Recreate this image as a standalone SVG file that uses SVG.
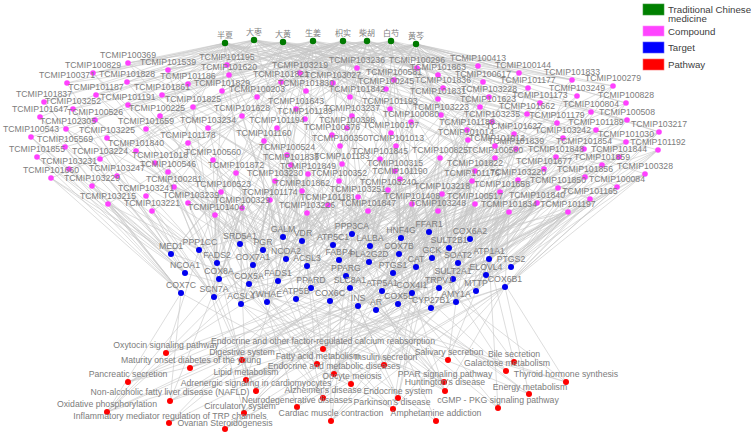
<svg xmlns="http://www.w3.org/2000/svg" width="751" height="436" viewBox="0 0 751 436">
<style>
.e{stroke:#c6c6c6;stroke-width:0.6;fill:none}
.c{fill:#ff40ff}
.t{fill:#0000f0}
.p{fill:#ff0000}
.h{fill:#007a00}
text{font-family:"Liberation Sans",Arial,sans-serif;font-size:8.7px;fill:#7c7c7c;text-anchor:middle}
.hl{font-family:"Noto Sans CJK SC",sans-serif;font-size:8px;fill:#808080}
.lg{font-size:9.7px;fill:#404040;text-anchor:start}
</style>
<rect width="751" height="436" fill="#ffffff"/>
<g id="connectors">
<path class="e" d="M254 40L128 63M283 42L93 73M313 41L168 70M343 41L227 65M367 41L67 83M391 41L127 82M416 44L188 84M225 43L229 75M254 40L44 102M283 42L96 95M313 41L162 95M343 41L222 91M367 41L73 109M391 41L128 105M416 44L193 107M225 43L40 117M254 40L95 120M283 42L160 116M313 41L242 116M343 41L66 129M367 41L146 129M391 41L208 128M416 44L300 73M225 43L357 68M254 40L417 68M283 42L478 66M313 41L281 82M343 41L333 83M367 41L394 80M391 41L438 75M416 44L483 82M225 43L306 91M254 40L386 89M283 42L443 88M313 41L489 97M343 41L257 97M367 41L350 97M391 41L438 99M416 44L296 109M225 43L390 109M254 40L441 115M283 42L480 107M313 41L352 116M343 41L305 119M367 41L277 128M391 41L347 128M416 44L411 122M225 43L492 122M254 40L519 73M283 42L528 88M313 41L572 80M343 41L613 86M367 41L577 96M391 41L540 103M416 44L626 103M225 43L527 114M254 40L591 112M283 42L557 123M313 41L627 120M343 41L596 130M367 41L659 132M391 41L514 134M416 44L563 138M225 43L626 142M254 40L658 150M283 42L516 149M313 41L584 149M343 41L495 158M367 41L556 157M391 41L619 157M416 44L544 169M225 43L602 165M254 40L645 174M283 42L518 180M313 41L585 177M343 41L558 188M367 41L617 187M391 41L500 192M416 44L537 203M225 43L590 199M254 40L509 212M283 42L568 212M313 41L264 141M343 41L332 135M367 41L391 133M391 41L467 130M416 44L340 146M225 43L396 146M254 40L468 140M283 42L495 146M313 41L287 155M343 41L380 159M367 41L440 158M391 41L291 165M416 44L342 164M225 43L395 171M254 40L475 171M283 42L236 173M313 41L308 174M343 41L400 179M367 41L275 181M391 41L339 181M416 44L472 181M225 43L302 191M254 40L388 190M283 42L442 194M313 41L270 200M343 41L358 197M367 41L328 205M391 41L412 204M416 44L475 204M225 43L242 208M254 40L307 213M283 42L368 211M313 41L438 211M343 41L31 137M367 41L107 138M391 41L188 143M416 44L65 147M225 43L37 157M254 40L136 151M283 42L213 160M313 41L100 159M343 41L155 163M367 41L69 169M391 41L51 178M416 44L117 176M225 43L168 172M254 40L92 186M283 42L174 187M313 41L221 192M343 41L146 196M367 41L108 204M391 41L188 203M416 44L152 211M225 43L215 215M225 43L93 73M225 43L67 83M225 43L44 102M225 43L128 63M254 40L73 109M416 44L519 73M416 44L572 80M416 44L613 86M416 44L626 103M391 41L659 132M416 44L478 66M391 41L528 88M225 43L168 70M254 40L188 84"/>
<path class="e" d="M225 43L300 73M225 43L281 82M225 43L257 97M225 43L296 109M225 43L146 129M225 43L162 95M254 40L227 65M254 40L229 75M254 40L222 91M254 40L306 91M254 40L93 73M254 40L127 82M283 42L128 63M283 42L168 70M283 42L357 68M283 42L333 83M283 42L394 80M283 42L264 141M313 41L417 68M313 41L386 89M313 41L350 97M313 41L188 84M313 41L96 95M313 41L332 135M343 41L438 75M343 41L478 66M343 41L300 73M343 41L128 105M343 41L391 133M343 41L193 107M367 41L483 82M367 41L443 88M367 41L257 97M367 41L227 65M367 41L519 73M367 41L352 116M391 41L489 97M391 41L438 99M391 41L296 109M391 41L229 75M391 41L572 80M391 41L390 109M416 44L528 88M416 44L540 103M416 44L357 68M416 44L394 80M416 44L441 115M416 44L480 107"/>
<path class="e" d="M171 254L44 102M171 254L40 117M171 254L31 137M171 254L37 157M171 254L51 178M171 254L66 129M171 254L67 83M171 254L92 186M199 250L73 109M199 250L65 147M199 250L69 169M199 250L108 204M199 250L146 129M199 250L596 130M240 244L93 73M240 244L95 120M240 244L100 159M240 244L208 128M240 244L332 135M240 244L563 138M283 237L128 63M283 237L96 95M283 237L257 97M283 237L287 155M283 237L489 97M283 237L591 112M302 241L128 105M302 241L357 68M302 241L277 128M302 241L308 174M302 241L613 86M302 241L516 149M263 250L107 138M263 250L136 151M263 250L127 82M263 250L264 141M263 250L306 91M263 250L556 157M352 234L168 70M352 234L333 83M352 234L347 128M352 234L394 80M352 234L540 103M352 234L619 157M333 245L162 95M333 245L300 73M333 245L340 146M333 245L441 115M333 245L557 123M333 245L558 188M370 246L188 84M370 246L350 97M370 246L391 133M370 246L467 130M370 246L626 142M370 246L221 192M217 263L117 176M217 263L155 163M217 263L188 143M217 263L193 107M217 263L236 173M217 263L659 132M286 259L227 65M286 259L242 116M286 259L296 109M286 259L342 164M286 259L528 88M286 259L188 203M253 265L160 116M253 265L168 172M253 265L213 160M253 265L275 181M253 265L386 89M253 265L626 103M307 266L222 91M307 266L281 82M307 266L305 119M307 266L339 181M307 266L443 88M307 266L645 174M339 260L229 75M339 260L352 116M339 260L380 159M339 260L388 190M339 260L483 82M339 260L544 169M369 262L417 68M369 262L390 109M369 262L396 146M369 262L395 171M369 262L577 96M369 262L174 187M185 273L31 137M185 273L37 157M185 273L51 178M185 273L92 186M185 273L108 204M185 273L146 196M185 273L73 109M185 273L44 102M219 279L152 211M219 279L174 187M219 279L188 203M219 279L300 73M219 279L584 149M219 279L627 120M346 276L478 66M346 276L411 122M346 276L400 179M346 276L358 197M346 276L514 134M346 276L66 129M346 276L602 165M278 281L302 191M278 281L270 200M278 281L242 208M278 281L291 165M278 281L519 73M278 281L438 75M249 284L215 215M249 284L221 192M249 284L328 205M249 284L438 99M249 284L527 114M249 284L617 187M311 288L307 213M311 288L368 211M311 288L412 204M311 288L468 140M311 288L107 138M311 288L585 177M350 288L442 194M350 288L438 211M350 288L440 158M350 288L146 129M350 288L572 80M350 288L590 199M382 291L475 204M382 291L472 181M382 291L475 171M382 291L495 158M382 291L128 105M382 291L658 150M181 293L31 137M181 293L37 157M181 293L51 178M181 293L69 169M181 293L65 147M181 293L40 117M181 293L92 186M181 293L108 204M214 297L100 159M214 297L117 176M214 297L146 196M214 297L152 211M214 297L492 122M214 297L568 212M241 304L215 215M241 304L242 208M241 304L270 200M241 304L168 70M241 304L500 192M241 304L518 180M267 302L307 213M267 302L328 205M267 302L302 191M267 302L308 174M267 302L480 107M267 302L537 203M296 299L358 197M296 299L368 211M296 299L388 190M296 299L557 123M296 299L509 212M296 299L96 95M330 301L412 204M330 301L438 211M330 301L442 194M330 301L558 188M330 301L568 212M330 301L93 73M358 306L475 204M358 306L509 212M358 306L537 203M358 306L500 192M358 306L95 120M358 306L563 138M376 310L568 212M376 310L590 199M376 310L617 187M376 310L645 174M376 310L188 143M376 310L659 132M401 238L467 130M401 238L495 146M401 238L417 68M401 238L394 80M401 238L127 82M401 238L658 150M399 254L440 158M399 254L475 171M399 254L442 194M399 254L514 134M399 254L162 95M399 254L627 120M393 273L400 179M393 273L412 204M393 273L472 181M393 273L544 169M393 273L213 160M393 273L613 86M398 304L475 204M398 304L509 212M398 304L518 180M398 304L558 188M398 304L155 163M398 304L602 165M429 232L478 66M429 232L483 82M429 232L489 97M429 232L519 73M429 232L128 63M429 232L626 142M470 239L528 88M470 239L540 103M470 239L527 114M470 239L516 149M470 239L591 112M470 239L626 103M470 239L659 132M449 248L467 130M449 248L468 140M449 248L495 146M449 248L495 158M449 248L577 96M449 248L229 75M432 258L440 158M432 258L395 171M432 258L475 171M432 258L563 138M432 258L277 128M432 258L619 157M416 267L400 179M416 267L388 190M416 267L442 194M416 267L556 157M416 267L242 116M416 267L626 142M458 263L472 181M458 263L518 180M458 263L544 169M458 263L500 192M458 263L584 149M458 263L227 65M489 259L514 134M489 259L516 149M489 259L556 157M489 259L585 177M489 259L658 150M489 259L613 86M489 259L645 174M511 267L627 120M511 267L626 142M511 267L658 150M511 267L619 157M511 267L645 174M511 267L659 132M511 267L626 103M486 275L537 203M486 275L558 188M486 275L590 199M486 275L617 187M486 275L602 165M486 275L193 107M453 279L475 204M453 279L438 211M453 279L509 212M453 279L537 203M453 279L596 130M453 279L208 128M505 287L568 212M505 287L590 199M505 287L617 187M505 287L645 174M505 287L659 132M505 287L658 150M505 287L509 212M439 288L438 211M439 288L412 204M439 288L475 204M439 288L568 212M439 288L222 91M439 288L591 112M476 291L509 212M476 291L537 203M476 291L568 212M476 291L558 188M476 291L572 80M476 291L296 109M412 293L368 211M412 293L438 211M412 293L412 204M412 293L442 194M412 293L305 119M412 293L585 177M456 302L475 204M456 302L509 212M456 302L568 212M456 302L590 199M456 302L386 89M456 302L584 149M431 308L438 211M431 308L368 211M431 308L475 204M431 308L537 203M431 308L160 116M431 308L596 130"/>
<path class="e" d="M171 254L264 141M171 254L236 173M171 254L287 155M199 250L242 208M199 250L270 200M199 250L221 192M199 250L332 135M240 244L275 181M240 244L302 191M240 244L340 146M240 244L291 165M283 237L308 174M283 237L342 164M283 237L380 159M283 237L264 141M302 241L339 181M302 241L358 197M302 241L396 146M302 241L287 155M263 250L242 208M263 250L307 213M263 250L328 205M263 250L236 173M352 234L388 190M352 234L395 171M352 234L412 204M352 234L440 158M333 245L368 211M333 245L400 179M333 245L342 164M333 245L302 191M370 246L438 211M370 246L442 194M370 246L475 171M370 246L339 181M217 263L242 208M217 263L215 215M217 263L264 141M217 263L213 160M286 259L307 213M286 259L328 205M286 259L275 181M286 259L391 133M253 265L270 200M253 265L302 191M253 265L221 192M253 265L332 135M307 266L358 197M307 266L368 211M307 266L308 174M307 266L412 204M339 260L396 146M339 260L400 179M339 260L442 194M339 260L291 165M369 262L438 211M369 262L475 204M369 262L472 181M369 262L440 158M219 279L242 208M219 279L275 181M219 279L264 141M219 279L168 172M346 276L388 190M346 276L412 204M346 276L438 211M346 276L308 174M278 281L328 205M278 281L358 197M278 281L236 173M278 281L340 146M249 284L242 208M249 284L270 200M249 284L302 191M249 284L291 165M311 288L339 181M311 288L388 190M311 288L442 194M311 288L287 155M350 288L368 211M350 288L400 179M350 288L475 204M350 288L307 213M382 291L438 211M382 291L412 204M382 291L442 194M382 291L358 197M214 297L215 215M214 297L242 208M214 297L221 192M214 297L174 187M241 304L307 213M241 304L302 191M241 304L275 181M241 304L188 203M267 302L270 200M267 302L242 208M267 302L339 181M267 302L368 211M296 299L307 213M296 299L328 205M296 299L412 204M296 299L270 200M330 301L368 211M330 301L358 197M330 301L388 190M330 301L307 213M358 306L438 211M358 306L412 204M358 306L368 211M358 306L442 194M376 310L438 211M376 310L475 204M376 310L412 204M376 310L509 212M401 238L440 158M401 238L396 146M401 238L391 133M401 238L468 140M399 254L412 204M399 254L400 179M399 254L395 171M399 254L438 211M393 273L438 211M393 273L442 194M393 273L368 211M393 273L475 171M398 304L438 211M398 304L412 204M398 304L442 194M398 304L368 211M429 232L440 158M429 232L467 130M429 232L441 115M429 232L411 122M470 239L495 158M470 239L500 192M470 239L518 180M470 239L475 171M449 248L475 204M449 248L472 181M449 248L442 194M449 248L440 158M432 258L438 211M432 258L442 194M432 258L475 204M432 258L412 204M416 267L438 211M416 267L475 204M416 267L412 204M416 267L472 181M458 263L475 204M458 263L509 212M458 263L537 203M458 263L442 194M489 259L509 212M489 259L537 203M489 259L568 212M489 259L500 192M486 275L509 212M486 275L568 212M486 275L518 180M486 275L475 204M453 279L442 194M453 279L472 181M453 279L500 192M453 279L412 204M439 288L442 194M439 288L472 181M439 288L509 212M439 288L537 203M476 291L475 204M476 291L500 192M476 291L590 199M476 291L518 180M412 293L475 204M412 293L307 213M412 293L328 205M412 293L509 212M456 302L438 211M456 302L537 203M456 302L442 194M456 302L500 192M431 308L412 204M431 308L442 194M431 308L509 212M431 308L307 213"/>
<path class="e" d="M166 353L199 250M166 353L352 234M166 353L350 288M166 353L511 267M323 349L302 241M323 349L489 259M323 349L429 232M242 360L358 306M242 360L489 259M242 360L429 232M242 360L456 302M190 368L401 238M190 368L432 258M190 368L358 306M317 364L217 263M317 364L278 281M317 364L241 304M317 364L307 266M317 364L486 275M384 365L429 232M384 365L432 258M384 365L489 259M384 365L358 306M334 374L358 306M334 374L432 258M334 374L401 238M334 374L346 276M128 382L489 259M128 382L456 302M128 382L350 288M128 382L369 262M246 380L217 263M246 380L278 281M246 380L458 263M246 380L449 248M246 380L453 279M246 380L240 244M246 380L476 291M351 384L267 302M351 384L352 234M351 384L199 250M256 391L489 259M256 391L350 288M256 391L199 250M256 391L214 297M444 382L346 276M444 382L311 288M444 382L339 260M444 382L307 266M444 382L241 304M445 391L505 287M445 391L330 301M445 391L249 284M445 391L399 254M445 391L333 245M445 391L398 304M448 360L489 259M448 360L456 302M448 360L350 288M514 362L489 259M514 362L453 279M506 371L283 237M506 371L432 258M506 371L370 246M566 382L489 259M566 382L416 267M566 382L171 254M566 382L185 273M529 394L382 291M529 394L296 299M529 394L333 245M529 394L505 287M498 408L489 259M498 408L352 234M498 408L350 288M398 398L358 306M398 398L432 258M398 398L429 232M398 398L302 241M323 398L505 287M323 398L249 284M323 398L330 301M323 398L253 265M323 398L219 279M323 398L382 291M323 398L296 299M170 401L358 306M170 401L505 287M170 401L330 301M170 401L181 293M170 401L219 279M297 407L505 287M297 407L398 304M297 407L412 293M297 407L253 265M393 409L505 287M393 409L181 293M393 409L249 284M393 409L296 299M393 409L412 293M107 412L505 287M107 412L181 293M107 412L249 284M107 412L382 291M107 412L219 279M107 412L253 265M107 412L470 239M244 413L489 259M244 413L350 288M244 413L199 250M331 421L505 287M331 421L470 239M331 421L330 301M331 421L489 259M331 421L350 288M169 423L439 288M169 423L352 234M169 423L369 262M225 429L511 267M225 429L393 273M225 429L431 308M225 429L358 306M436 421L352 234M436 421L199 250"/>
</g>
<g id="herbs">
<g id="h1"><circle class="h" cx="225" cy="43" r="3.2"/><text class="hl" x="225" y="38">半夏</text></g>
<g id="h2"><circle class="h" cx="254" cy="40" r="3.2"/><text class="hl" x="254" y="35">大枣</text></g>
<g id="h3"><circle class="h" cx="283" cy="42" r="3.2"/><text class="hl" x="283" y="37">大黄</text></g>
<g id="h4"><circle class="h" cx="313" cy="41" r="3.2"/><text class="hl" x="313" y="36">生姜</text></g>
<g id="h5"><circle class="h" cx="343" cy="41" r="3.2"/><text class="hl" x="343" y="36">枳实</text></g>
<g id="h6"><circle class="h" cx="367" cy="41" r="3.2"/><text class="hl" x="367" y="36">柴胡</text></g>
<g id="h7"><circle class="h" cx="391" cy="41" r="3.2"/><text class="hl" x="391" y="36">白芍</text></g>
<g id="h8"><circle class="h" cx="416" cy="44" r="3.2"/><text class="hl" x="416" y="39">黄芩</text></g>
</g>
<g id="compounds">
<g id="c1"><circle class="c" cx="128" cy="63" r="2.8"/><text x="128" y="58">TCMIP100369</text></g>
<g id="c2"><circle class="c" cx="93" cy="73" r="2.8"/><text x="93" y="68">TCMIP100829</text></g>
<g id="c3"><circle class="c" cx="168" cy="70" r="2.8"/><text x="168" y="65">TCMIP101539</text></g>
<g id="c4"><circle class="c" cx="227" cy="65" r="2.8"/><text x="227" y="60">TCMIP101195</text></g>
<g id="c5"><circle class="c" cx="67" cy="83" r="2.8"/><text x="67" y="78">TCMIP100371</text></g>
<g id="c6"><circle class="c" cx="127" cy="82" r="2.8"/><text x="127" y="77">TCMIP101828</text></g>
<g id="c7"><circle class="c" cx="188" cy="84" r="2.8"/><text x="188" y="79">TCMIP101186</text></g>
<g id="c8"><circle class="c" cx="229" cy="75" r="2.8"/><text x="229" y="70">TCMIP101620</text></g>
<g id="c9"><circle class="c" cx="44" cy="102" r="2.8"/><text x="44" y="97">TCMIP101837</text></g>
<g id="c10"><circle class="c" cx="96" cy="95" r="2.8"/><text x="96" y="90">TCMIP101187</text></g>
<g id="c11"><circle class="c" cx="162" cy="95" r="2.8"/><text x="162" y="90">TCMIP101861</text></g>
<g id="c12"><circle class="c" cx="222" cy="91" r="2.8"/><text x="222" y="86">TCMIP101829</text></g>
<g id="c13"><circle class="c" cx="73" cy="109" r="2.8"/><text x="73" y="104">TCMIP103252</text></g>
<g id="c14"><circle class="c" cx="128" cy="105" r="2.8"/><text x="128" y="100">TCMIP101191</text></g>
<g id="c15"><circle class="c" cx="193" cy="107" r="2.8"/><text x="193" y="102">TCMIP101825</text></g>
<g id="c16"><circle class="c" cx="40" cy="117" r="2.8"/><text x="40" y="112">TCMIP101647</text></g>
<g id="c17"><circle class="c" cx="95" cy="120" r="2.8"/><text x="95" y="115">TCMIP100526</text></g>
<g id="c18"><circle class="c" cx="160" cy="116" r="2.8"/><text x="157" y="111">TCMIP100225</text></g>
<g id="c19"><circle class="c" cx="242" cy="116" r="2.8"/><text x="242" y="111">TCMIP101628</text></g>
<g id="c20"><circle class="c" cx="66" cy="129" r="2.8"/><text x="68" y="124">TCMIP102305</text></g>
<g id="c21"><circle class="c" cx="146" cy="129" r="2.8"/><text x="146" y="124">TCMIP101659</text></g>
<g id="c22"><circle class="c" cx="208" cy="128" r="2.8"/><text x="208" y="123">TCMIP103234</text></g>
<g id="c23"><circle class="c" cx="300" cy="73" r="2.8"/><text x="300" y="68">TCMIP103219</text></g>
<g id="c24"><circle class="c" cx="357" cy="68" r="2.8"/><text x="357" y="63">TCMIP103236</text></g>
<g id="c25"><circle class="c" cx="417" cy="68" r="2.8"/><text x="417" y="63">TCMIP100296</text></g>
<g id="c26"><circle class="c" cx="478" cy="66" r="2.8"/><text x="478" y="61">TCMIP100413</text></g>
<g id="c27"><circle class="c" cx="281" cy="82" r="2.8"/><text x="281" y="77">TCMIP101821</text></g>
<g id="c28"><circle class="c" cx="333" cy="83" r="2.8"/><text x="333" y="78">TCMIP103027</text></g>
<g id="c29"><circle class="c" cx="394" cy="80" r="2.8"/><text x="394" y="75">TCMIP100581</text></g>
<g id="c30"><circle class="c" cx="438" cy="75" r="2.8"/><text x="438" y="70">TCMIP101863</text></g>
<g id="c31"><circle class="c" cx="483" cy="82" r="2.8"/><text x="483" y="77">TCMIP100617</text></g>
<g id="c32"><circle class="c" cx="306" cy="91" r="2.8"/><text x="306" y="86">TCMIP101830</text></g>
<g id="c33"><circle class="c" cx="386" cy="89" r="2.8"/><text x="386" y="84">TCMIP100245</text></g>
<g id="c34"><circle class="c" cx="443" cy="88" r="2.8"/><text x="443" y="83">TCMIP101836</text></g>
<g id="c35"><circle class="c" cx="489" cy="97" r="2.8"/><text x="489" y="92">TCMIP103228</text></g>
<g id="c36"><circle class="c" cx="257" cy="97" r="2.8"/><text x="257" y="92">TCMIP100203</text></g>
<g id="c37"><circle class="c" cx="350" cy="97" r="2.8"/><text x="357" y="92">TCMIP101842</text></g>
<g id="c38"><circle class="c" cx="438" cy="99" r="2.8"/><text x="438" y="94">TCMIP101831</text></g>
<g id="c39"><circle class="c" cx="296" cy="109" r="2.8"/><text x="296" y="104">TCMIP101643</text></g>
<g id="c40"><circle class="c" cx="390" cy="109" r="2.8"/><text x="390" y="104">TCMIP101193</text></g>
<g id="c41"><circle class="c" cx="441" cy="115" r="2.8"/><text x="441" y="110">TCMIP103223</text></g>
<g id="c42"><circle class="c" cx="480" cy="107" r="2.8"/><text x="488" y="102">TCMIP101623</text></g>
<g id="c43"><circle class="c" cx="352" cy="116" r="2.8"/><text x="352" y="111">TCMIP103237</text></g>
<g id="c44"><circle class="c" cx="305" cy="119" r="2.8"/><text x="305" y="114">TCMIP101189</text></g>
<g id="c45"><circle class="c" cx="277" cy="128" r="2.8"/><text x="277" y="123">TCMIP101194</text></g>
<g id="c46"><circle class="c" cx="347" cy="128" r="2.8"/><text x="347" y="123">TCMIP100398</text></g>
<g id="c47"><circle class="c" cx="411" cy="122" r="2.8"/><text x="411" y="117">TCMIP100080</text></g>
<g id="c48"><circle class="c" cx="492" cy="122" r="2.8"/><text x="492" y="117">TCMIP103235</text></g>
<g id="c49"><circle class="c" cx="519" cy="73" r="2.8"/><text x="523" y="68">TCMIP100144</text></g>
<g id="c50"><circle class="c" cx="528" cy="88" r="2.8"/><text x="528" y="83">TCMIP101177</text></g>
<g id="c51"><circle class="c" cx="572" cy="80" r="2.8"/><text x="572" y="75">TCMIP101833</text></g>
<g id="c52"><circle class="c" cx="613" cy="86" r="2.8"/><text x="613" y="81">TCMIP100279</text></g>
<g id="c53"><circle class="c" cx="577" cy="96" r="2.8"/><text x="577" y="91">TCMIP103249</text></g>
<g id="c54"><circle class="c" cx="540" cy="103" r="2.8"/><text x="540" y="98">TCMIP101173</text></g>
<g id="c55"><circle class="c" cx="626" cy="103" r="2.8"/><text x="626" y="98">TCMIP100828</text></g>
<g id="c56"><circle class="c" cx="527" cy="114" r="2.8"/><text x="527" y="109">TCMIP101662</text></g>
<g id="c57"><circle class="c" cx="591" cy="112" r="2.8"/><text x="591" y="107">TCMIP100804</text></g>
<g id="c58"><circle class="c" cx="557" cy="123" r="2.8"/><text x="557" y="118">TCMIP101179</text></g>
<g id="c59"><circle class="c" cx="627" cy="120" r="2.8"/><text x="627" y="115">TCMIP100508</text></g>
<g id="c60"><circle class="c" cx="596" cy="130" r="2.8"/><text x="596" y="125">TCMIP101189</text></g>
<g id="c61"><circle class="c" cx="659" cy="132" r="2.8"/><text x="659" y="127">TCMIP103217</text></g>
<g id="c62"><circle class="c" cx="514" cy="134" r="2.8"/><text x="514" y="129">TCMIP101627</text></g>
<g id="c63"><circle class="c" cx="563" cy="138" r="2.8"/><text x="563" y="133">TCMIP103242</text></g>
<g id="c64"><circle class="c" cx="626" cy="142" r="2.8"/><text x="626" y="137">TCMIP101030</text></g>
<g id="c65"><circle class="c" cx="658" cy="150" r="2.8"/><text x="658" y="145">TCMIP101192</text></g>
<g id="c66"><circle class="c" cx="516" cy="149" r="2.8"/><text x="516" y="144">TCMIP101839</text></g>
<g id="c67"><circle class="c" cx="584" cy="149" r="2.8"/><text x="584" y="144">TCMIP101854</text></g>
<g id="c68"><circle class="c" cx="495" cy="158" r="2.8"/><text x="495" y="153">TCMIP100580</text></g>
<g id="c69"><circle class="c" cx="556" cy="157" r="2.8"/><text x="556" y="152">TCMIP101848</text></g>
<g id="c70"><circle class="c" cx="619" cy="157" r="2.8"/><text x="619" y="152">TCMIP101844</text></g>
<g id="c71"><circle class="c" cx="544" cy="169" r="2.8"/><text x="544" y="164">TCMIP101677</text></g>
<g id="c72"><circle class="c" cx="602" cy="165" r="2.8"/><text x="602" y="160">TCMIP101859</text></g>
<g id="c73"><circle class="c" cx="645" cy="174" r="2.8"/><text x="645" y="169">TCMIP100328</text></g>
<g id="c74"><circle class="c" cx="518" cy="180" r="2.8"/><text x="518" y="175">TCMIP103220</text></g>
<g id="c75"><circle class="c" cx="585" cy="177" r="2.8"/><text x="585" y="172">TCMIP101856</text></g>
<g id="c76"><circle class="c" cx="558" cy="188" r="2.8"/><text x="558" y="183">TCMIP101850</text></g>
<g id="c77"><circle class="c" cx="617" cy="187" r="2.8"/><text x="617" y="182">TCMIP100084</text></g>
<g id="c78"><circle class="c" cx="500" cy="192" r="2.8"/><text x="502" y="187">TCMIP101658</text></g>
<g id="c79"><circle class="c" cx="537" cy="203" r="2.8"/><text x="537" y="198">TCMIP101840</text></g>
<g id="c80"><circle class="c" cx="590" cy="199" r="2.8"/><text x="590" y="194">TCMIP101165</text></g>
<g id="c81"><circle class="c" cx="509" cy="212" r="2.8"/><text x="509" y="207">TCMIP101834</text></g>
<g id="c82"><circle class="c" cx="568" cy="212" r="2.8"/><text x="568" y="207">TCMIP101197</text></g>
<g id="c83"><circle class="c" cx="264" cy="141" r="2.8"/><text x="264" y="136">TCMIP101160</text></g>
<g id="c84"><circle class="c" cx="332" cy="135" r="2.8"/><text x="332" y="130">TCMIP100376</text></g>
<g id="c85"><circle class="c" cx="391" cy="133" r="2.8"/><text x="391" y="128">TCMIP100107</text></g>
<g id="c86"><circle class="c" cx="467" cy="130" r="2.8"/><text x="467" y="125">TCMIP101188</text></g>
<g id="c87"><circle class="c" cx="340" cy="146" r="2.8"/><text x="340" y="141">TCMIP100350</text></g>
<g id="c88"><circle class="c" cx="396" cy="146" r="2.8"/><text x="396" y="141">TCMIP101013</text></g>
<g id="c89"><circle class="c" cx="468" cy="140" r="2.8"/><text x="466" y="135">TCMIP101014</text></g>
<g id="c90"><circle class="c" cx="495" cy="146" r="2.8"/><text x="497" y="141">TCMIP101012</text></g>
<g id="c91"><circle class="c" cx="287" cy="155" r="2.8"/><text x="287" y="150">TCMIP100524</text></g>
<g id="c92"><circle class="c" cx="380" cy="159" r="2.8"/><text x="380" y="154">TCMIP101845</text></g>
<g id="c93"><circle class="c" cx="440" cy="158" r="2.8"/><text x="440" y="153">TCMIP100825</text></g>
<g id="c94"><circle class="c" cx="291" cy="165" r="2.8"/><text x="291" y="160">TCMIP101838</text></g>
<g id="c95"><circle class="c" cx="342" cy="164" r="2.8"/><text x="342" y="159">TCMIP101183</text></g>
<g id="c96"><circle class="c" cx="395" cy="171" r="2.8"/><text x="395" y="166">TCMIP100315</text></g>
<g id="c97"><circle class="c" cx="475" cy="171" r="2.8"/><text x="475" y="166">TCMIP101822</text></g>
<g id="c98"><circle class="c" cx="236" cy="173" r="2.8"/><text x="236" y="168">TCMIP101872</text></g>
<g id="c99"><circle class="c" cx="308" cy="174" r="2.8"/><text x="308" y="169">TCMIP101849</text></g>
<g id="c100"><circle class="c" cx="400" cy="179" r="2.8"/><text x="400" y="174">TCMIP101190</text></g>
<g id="c101"><circle class="c" cx="275" cy="181" r="2.8"/><text x="275" y="176">TCMIP103230</text></g>
<g id="c102"><circle class="c" cx="339" cy="181" r="2.8"/><text x="339" y="176">TCMIP100352</text></g>
<g id="c103"><circle class="c" cx="472" cy="181" r="2.8"/><text x="472" y="176">TCMIP101176</text></g>
<g id="c104"><circle class="c" cx="302" cy="191" r="2.8"/><text x="302" y="186">TCMIP101862</text></g>
<g id="c105"><circle class="c" cx="388" cy="190" r="2.8"/><text x="388" y="185">TCMIP103240</text></g>
<g id="c106"><circle class="c" cx="442" cy="194" r="2.8"/><text x="442" y="189">TCMIP103218</text></g>
<g id="c107"><circle class="c" cx="270" cy="200" r="2.8"/><text x="270" y="195">TCMIP101174</text></g>
<g id="c108"><circle class="c" cx="358" cy="197" r="2.8"/><text x="358" y="192">TCMIP103251</text></g>
<g id="c109"><circle class="c" cx="328" cy="205" r="2.8"/><text x="328" y="200">TCMIP101181</text></g>
<g id="c110"><circle class="c" cx="412" cy="204" r="2.8"/><text x="412" y="199">TCMIP101408</text></g>
<g id="c111"><circle class="c" cx="475" cy="204" r="2.8"/><text x="475" y="199">TCMIP100517</text></g>
<g id="c112"><circle class="c" cx="242" cy="208" r="2.8"/><text x="242" y="203">TCMIP100329</text></g>
<g id="c113"><circle class="c" cx="307" cy="213" r="2.8"/><text x="307" y="208">TCMIP103226</text></g>
<g id="c114"><circle class="c" cx="368" cy="211" r="2.8"/><text x="368" y="206">TCMIP101847</text></g>
<g id="c115"><circle class="c" cx="438" cy="211" r="2.8"/><text x="438" y="206">TCMIP103248</text></g>
<g id="c116"><circle class="c" cx="31" cy="137" r="2.8"/><text x="31" y="132">TCMIP100543</text></g>
<g id="c117"><circle class="c" cx="107" cy="138" r="2.8"/><text x="107" y="133">TCMIP103225</text></g>
<g id="c118"><circle class="c" cx="188" cy="143" r="2.8"/><text x="188" y="138">TCMIP101178</text></g>
<g id="c119"><circle class="c" cx="65" cy="147" r="2.8"/><text x="65" y="142">TCMIP105569</text></g>
<g id="c120"><circle class="c" cx="37" cy="157" r="2.8"/><text x="37" y="152">TCMIP101855</text></g>
<g id="c121"><circle class="c" cx="136" cy="151" r="2.8"/><text x="136" y="146">TCMIP101840</text></g>
<g id="c122"><circle class="c" cx="213" cy="160" r="2.8"/><text x="213" y="155">TCMIP100560</text></g>
<g id="c123"><circle class="c" cx="100" cy="159" r="2.8"/><text x="100" y="154">TCMIP103224</text></g>
<g id="c124"><circle class="c" cx="155" cy="163" r="2.8"/><text x="160" y="158">TCMIP101018</text></g>
<g id="c125"><circle class="c" cx="69" cy="169" r="2.8"/><text x="69" y="164">TCMIP103231</text></g>
<g id="c126"><circle class="c" cx="51" cy="178" r="2.8"/><text x="51" y="173">TCMIP101660</text></g>
<g id="c127"><circle class="c" cx="117" cy="176" r="2.8"/><text x="117" y="171">TCMIP103247</text></g>
<g id="c128"><circle class="c" cx="168" cy="172" r="2.8"/><text x="168" y="167">TCMIP100546</text></g>
<g id="c129"><circle class="c" cx="92" cy="186" r="2.8"/><text x="92" y="181">TCMIP103229</text></g>
<g id="c130"><circle class="c" cx="174" cy="187" r="2.8"/><text x="174" y="182">TCMIP100281</text></g>
<g id="c131"><circle class="c" cx="221" cy="192" r="2.8"/><text x="223" y="187">TCMIP100523</text></g>
<g id="c132"><circle class="c" cx="146" cy="196" r="2.8"/><text x="146" y="191">TCMIP103241</text></g>
<g id="c133"><circle class="c" cx="108" cy="204" r="2.8"/><text x="108" y="199">TCMIP103215</text></g>
<g id="c134"><circle class="c" cx="188" cy="203" r="2.8"/><text x="191" y="198">TCMIP103239</text></g>
<g id="c135"><circle class="c" cx="152" cy="211" r="2.8"/><text x="152" y="206">TCMIP103221</text></g>
<g id="c136"><circle class="c" cx="215" cy="215" r="2.8"/><text x="216" y="210">TCMIP101404</text></g>
</g>
<g id="targets">
<g id="t1"><circle class="t" cx="171" cy="254" r="3"/><text x="171" y="249">MED1</text></g>
<g id="t2"><circle class="t" cx="199" cy="250" r="3"/><text x="200" y="245">PPP1CC</text></g>
<g id="t3"><circle class="t" cx="240" cy="244" r="3"/><text x="240" y="239">SRD5A1</text></g>
<g id="t4"><circle class="t" cx="283" cy="237" r="3"/><text x="283" y="232">GALM</text></g>
<g id="t5"><circle class="t" cx="302" cy="241" r="3"/><text x="303" y="236">VDR</text></g>
<g id="t6"><circle class="t" cx="263" cy="250" r="3"/><text x="263" y="245">PGR</text></g>
<g id="t7"><circle class="t" cx="352" cy="234" r="3"/><text x="352" y="229">PPP3CA</text></g>
<g id="t8"><circle class="t" cx="333" cy="245" r="3"/><text x="333" y="240">ATP5C1</text></g>
<g id="t9"><circle class="t" cx="370" cy="246" r="3"/><text x="370" y="241">LALBA</text></g>
<g id="t10"><circle class="t" cx="217" cy="263" r="3"/><text x="217" y="258">FADS2</text></g>
<g id="t11"><circle class="t" cx="286" cy="259" r="3"/><text x="286" y="254">NCOA2</text></g>
<g id="t12"><circle class="t" cx="253" cy="265" r="3"/><text x="253" y="260">COX7A1</text></g>
<g id="t13"><circle class="t" cx="307" cy="266" r="3"/><text x="307" y="261">ACSL3</text></g>
<g id="t14"><circle class="t" cx="339" cy="260" r="3"/><text x="339" y="255">FABP4</text></g>
<g id="t15"><circle class="t" cx="369" cy="262" r="3"/><text x="369" y="257">PLA2G2D</text></g>
<g id="t16"><circle class="t" cx="185" cy="273" r="3"/><text x="185" y="268">NCOA1</text></g>
<g id="t17"><circle class="t" cx="219" cy="279" r="3"/><text x="219" y="274">COX8A</text></g>
<g id="t18"><circle class="t" cx="346" cy="276" r="3"/><text x="346" y="271">PPARG</text></g>
<g id="t19"><circle class="t" cx="278" cy="281" r="3"/><text x="278" y="276">FADS1</text></g>
<g id="t20"><circle class="t" cx="249" cy="284" r="3"/><text x="249" y="279">COX5A</text></g>
<g id="t21"><circle class="t" cx="311" cy="288" r="3"/><text x="311" y="283">PPARD</text></g>
<g id="t22"><circle class="t" cx="350" cy="288" r="3"/><text x="350" y="283">SLC8A1</text></g>
<g id="t23"><circle class="t" cx="382" cy="291" r="3"/><text x="382" y="286">ATP5A1</text></g>
<g id="t24"><circle class="t" cx="181" cy="293" r="3"/><text x="181" y="288">COX7C</text></g>
<g id="t25"><circle class="t" cx="214" cy="297" r="3"/><text x="214" y="292">SCN7A</text></g>
<g id="t26"><circle class="t" cx="241" cy="304" r="3"/><text x="241" y="299">ACSL4</text></g>
<g id="t27"><circle class="t" cx="267" cy="302" r="3"/><text x="266" y="297">YWHAE</text></g>
<g id="t28"><circle class="t" cx="296" cy="299" r="3"/><text x="296" y="294">ATP5B</text></g>
<g id="t29"><circle class="t" cx="330" cy="301" r="3"/><text x="330" y="296">COX6C</text></g>
<g id="t30"><circle class="t" cx="358" cy="306" r="3"/><text x="358" y="301">INS</text></g>
<g id="t31"><circle class="t" cx="376" cy="310" r="3"/><text x="376" y="305">AR</text></g>
<g id="t32"><circle class="t" cx="401" cy="238" r="3"/><text x="401" y="233">HNF4G</text></g>
<g id="t33"><circle class="t" cx="399" cy="254" r="3"/><text x="399" y="249">COX7B</text></g>
<g id="t34"><circle class="t" cx="393" cy="273" r="3"/><text x="393" y="268">PTGS1</text></g>
<g id="t35"><circle class="t" cx="398" cy="304" r="3"/><text x="399" y="299">COX5B</text></g>
<g id="t36"><circle class="t" cx="429" cy="232" r="3"/><text x="429" y="227">FFAR1</text></g>
<g id="t37"><circle class="t" cx="470" cy="239" r="3"/><text x="470" y="234">COX6A2</text></g>
<g id="t38"><circle class="t" cx="449" cy="248" r="3"/><text x="449" y="243">SULT2B1</text></g>
<g id="t39"><circle class="t" cx="432" cy="258" r="3"/><text x="432" y="253">GCK</text></g>
<g id="t40"><circle class="t" cx="416" cy="267" r="3"/><text x="416" y="262">CAT</text></g>
<g id="t41"><circle class="t" cx="458" cy="263" r="3"/><text x="458" y="258">SOAT2</text></g>
<g id="t42"><circle class="t" cx="489" cy="259" r="3"/><text x="489" y="254">ATP1A1</text></g>
<g id="t43"><circle class="t" cx="511" cy="267" r="3"/><text x="511" y="262">PTGS2</text></g>
<g id="t44"><circle class="t" cx="486" cy="275" r="3"/><text x="486" y="270">ELOVL4</text></g>
<g id="t45"><circle class="t" cx="453" cy="279" r="3"/><text x="453" y="274">SULT2A1</text></g>
<g id="t46"><circle class="t" cx="505" cy="287" r="3"/><text x="505" y="282">COX6B1</text></g>
<g id="t47"><circle class="t" cx="439" cy="288" r="3"/><text x="439" y="283">TRPV1</text></g>
<g id="t48"><circle class="t" cx="476" cy="291" r="3"/><text x="476" y="286">MTTP</text></g>
<g id="t49"><circle class="t" cx="412" cy="293" r="3"/><text x="412" y="288">COX4I1</text></g>
<g id="t50"><circle class="t" cx="456" cy="302" r="3"/><text x="456" y="297">AMY1A</text></g>
<g id="t51"><circle class="t" cx="431" cy="308" r="3"/><text x="431" y="303">CYP27B1</text></g>
</g>
<g id="pathways">
<g id="p1"><circle class="p" cx="166" cy="353" r="3"/><text x="166" y="348">Oxytocin signaling pathway</text></g>
<g id="p2"><circle class="p" cx="323" cy="349" r="3"/><text x="323" y="344">Endocrine and other factor-regulated calcium reabsorption</text></g>
<g id="p3"><circle class="p" cx="242" cy="360" r="3"/><text x="242" y="355">Digestive system</text></g>
<g id="p4"><circle class="p" cx="190" cy="368" r="3"/><text x="191" y="363">Maturity onset diabetes of the young</text></g>
<g id="p5"><circle class="p" cx="317" cy="364" r="3"/><text x="318" y="359">Fatty acid metabolism</text></g>
<g id="p6"><circle class="p" cx="384" cy="365" r="3"/><text x="386" y="360">Insulin secretion</text></g>
<g id="p7"><circle class="p" cx="334" cy="374" r="3"/><text x="334" y="369">Endocrine and metabolic diseases</text></g>
<g id="p8"><circle class="p" cx="128" cy="382" r="3"/><text x="128" y="377">Pancreatic secretion</text></g>
<g id="p9"><circle class="p" cx="246" cy="380" r="3"/><text x="246" y="375">Lipid metabolism</text></g>
<g id="p10"><circle class="p" cx="351" cy="384" r="3"/><text x="352" y="379">Oocyte meiosis</text></g>
<g id="p11"><circle class="p" cx="256" cy="391" r="3"/><text x="256" y="386">Adrenergic signaling in cardiomyocytes</text></g>
<g id="p12"><circle class="p" cx="444" cy="382" r="3"/><text x="445" y="377">PPAR signaling pathway</text></g>
<g id="p13"><circle class="p" cx="445" cy="391" r="3"/><text x="445" y="385">Huntington's disease</text></g>
<g id="p14"><circle class="p" cx="448" cy="360" r="3"/><text x="449" y="355">Salivary secretion</text></g>
<g id="p15"><circle class="p" cx="514" cy="362" r="3"/><text x="514" y="357">Bile secretion</text></g>
<g id="p16"><circle class="p" cx="506" cy="371" r="3"/><text x="507" y="366">Galactose metabolism</text></g>
<g id="p17"><circle class="p" cx="566" cy="382" r="3"/><text x="566" y="377">Thyroid hormone synthesis</text></g>
<g id="p18"><circle class="p" cx="529" cy="394" r="3"/><text x="530" y="390">Energy metabolism</text></g>
<g id="p19"><circle class="p" cx="498" cy="408" r="3"/><text x="498" y="403">cGMP - PKG signaling pathway</text></g>
<g id="p20"><circle class="p" cx="398" cy="398" r="3"/><text x="398" y="394">Endocrine system</text></g>
<g id="p21"><circle class="p" cx="323" cy="398" r="3"/><text x="323" y="393">Alzheimer's disease</text></g>
<g id="p22"><circle class="p" cx="170" cy="401" r="3"/><text x="170" y="395">Non-alcoholic fatty liver disease (NAFLD)</text></g>
<g id="p23"><circle class="p" cx="297" cy="407" r="3"/><text x="297" y="403">Neurodegenerative diseases</text></g>
<g id="p24"><circle class="p" cx="393" cy="409" r="3"/><text x="392" y="405">Parkinson's disease</text></g>
<g id="p25"><circle class="p" cx="107" cy="412" r="3"/><text x="107" y="407">Oxidative phosphorylation</text></g>
<g id="p26"><circle class="p" cx="244" cy="413" r="3"/><text x="240" y="409">Circulatory system</text></g>
<g id="p27"><circle class="p" cx="331" cy="421" r="3"/><text x="331" y="416">Cardiac muscle contraction</text></g>
<g id="p28"><circle class="p" cx="169" cy="423" r="3"/><text x="170" y="419">Inflammatory mediator regulation of TRP channels</text></g>
<g id="p29"><circle class="p" cx="225" cy="429" r="3"/><text x="225" y="426">Ovarian Steroidogenesis</text></g>
<g id="p30"><circle class="p" cx="436" cy="421" r="3"/><text x="436" y="416">Amphetamine addiction</text></g>
</g>
<g id="legend">
<rect x="643" y="4" width="21" height="11" fill="#008000" stroke="#3a9a3a" stroke-width="0.6"/>
<text class="lg" x="668" y="13">Traditional Chinese</text>
<text class="lg" x="668" y="22">medicine</text>
<rect x="643" y="26" width="21" height="10" fill="#ff44ff" stroke="#ff88ff" stroke-width="0.6"/>
<text class="lg" x="668" y="35">Compound</text>
<rect x="643" y="42" width="21" height="11" fill="#0000ff" stroke="#5a5aff" stroke-width="0.6"/>
<text class="lg" x="668" y="51">Target</text>
<rect x="643" y="59" width="21" height="11" fill="#ff0000" stroke="#ff6a6a" stroke-width="0.6"/>
<text class="lg" x="668" y="68">Pathway</text>
</g>
</svg>
